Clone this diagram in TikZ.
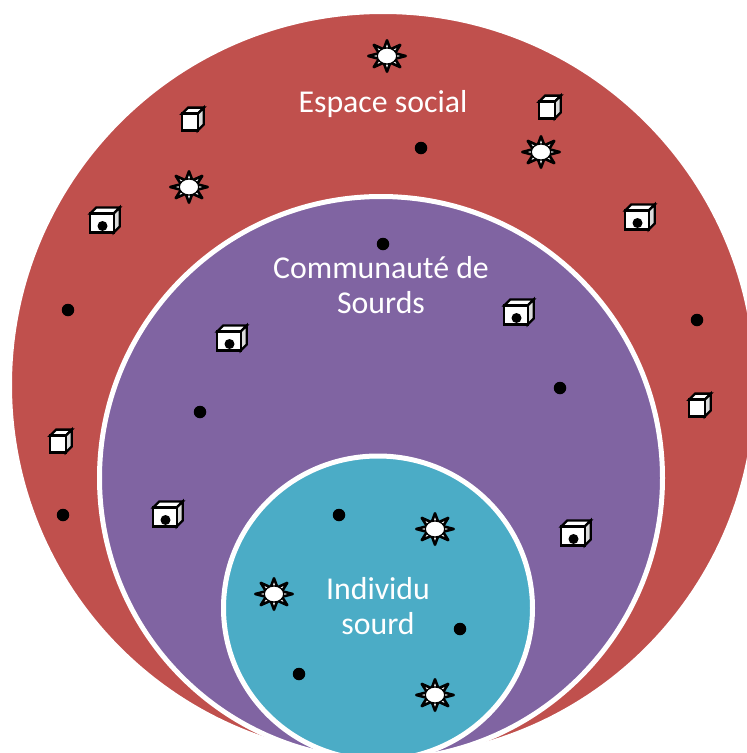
\documentclass[tikz,border=0pt]{standalone}
\usepackage{fontspec}
\setmainfont{Carlito}
\definecolor{redfill}{HTML}{C0504D}
\definecolor{purplefill}{HTML}{8064A2}
\definecolor{tealfill}{HTML}{4BACC6}
\definecolor{cubeside}{HTML}{DCDCDC}
\tikzset{
  disc/.style={draw=white,line width=5pt},
  label text/.style={text=white,font=\fontsize{31.8}{35.5}\selectfont,align=center},
  blackdot/.style={circle,fill=black,inner sep=0pt,minimum size=12.5pt},
  iconline/.style={draw=black,line width=2.3pt,line join=miter},
  pics/smallcube/.style={code={
    \path[iconline,fill=white] (-10.8,-5.4) -- (-4.8,-11.4) -- (10.8,-11.4) -- (4.8,-5.4) -- cycle;
    \path[iconline,fill=cubeside] (4.8,-5.4) -- (10.8,-11.4) -- (10.8,5.4) -- (4.8,11.4) -- cycle;
    \path[iconline,fill=white] (-10.8,-5.4) rectangle (4.8,11.4);
  }},
  pics/dotcube/.style={code={
    \path[iconline,fill=white] (-14.7,-6.5) -- (-8.7,-12.5) -- (14.7,-12.5) -- (8.7,-6.5) -- cycle;
    \path[iconline,fill=cubeside] (8.7,-6.5) -- (14.7,-12.5) -- (14.7,6.5) -- (8.7,12.5) -- cycle;
    \path[iconline,fill=white] (-14.7,-6.5) rectangle (8.7,12.5);
    \fill[black] (-2.5,6) circle (5pt);
  }},
  pics/sunicon/.style={code={
    \foreach \a in {0,45,...,315}{
      \path[iconline,fill=white,line join=round,line width=2.6pt]
        ({9*cos(\a-21)},{7.5*sin(\a-21)}) -- ({18.7*cos(\a)},{15.7*sin(\a)}) -- ({9*cos(\a+21)},{7.5*sin(\a+21)}) -- cycle;
    }
    \path[draw=black,line width=1.2pt,fill=white] (0,0) ellipse (9.7pt and 8pt);
  }}
}
\begin{document}
\begin{tikzpicture}[x=1pt,y=-1pt]
\useasboundingbox (0,0) rectangle (747,753);
\clip (0,0) rectangle (747,753);
\fill[white] (0,0) rectangle (747,753);
\path[disc,fill=redfill] (383,385) circle (373.5pt);
\path[disc,fill=purplefill] (381,478) circle (281.5pt);
\path[disc,fill=tealfill] (378,608) ellipse (154.5pt and 152pt);
\node[label text] (espace) at (383,104) {Espace social};
\node[label text] (communaute) at (381,285) {Communauté de\\Sourds};
\node[label text] (individu) at (378,606) {Individu\\sourd};
\foreach \n/\x/\y in {1/193/119,2/550/107,3/700/405,4/61/441}
  \pic (cube\n) at (\x,\y) {smallcube};
\foreach \n/\x/\y in {1/105/220,2/640/217,3/232/338,4/519/312,5/168/514,6/576/533}
  \pic (dcube\n) at (\x,\y) {dotcube};
\foreach \n/\x/\y in {1/387/56,2/541/152,3/189/187,4/435/529,5/274/594,6/435/695}
  \pic (sun\n) at (\x,\y) {sunicon};
\foreach \n/\x/\y in {1/421/148,2/383/244,3/68/310,4/697/320,5/560/388,6/200/412,7/63/515,8/339/515,9/460/629,10/299/674}
  \node[blackdot] (dot\n) at (\x,\y) {};
\end{tikzpicture}
\end{document}
